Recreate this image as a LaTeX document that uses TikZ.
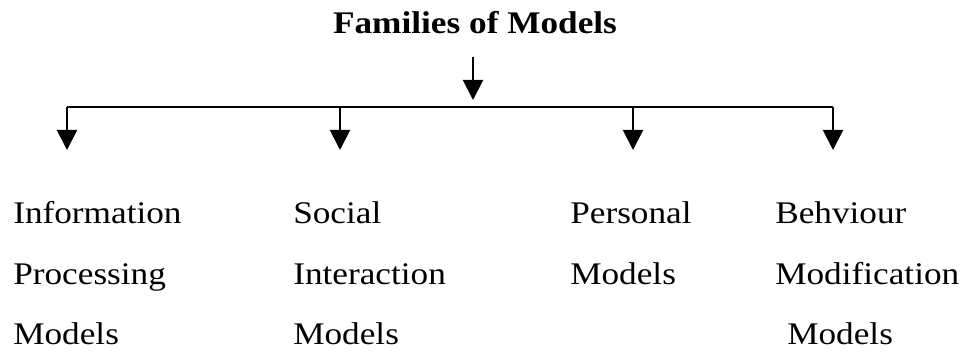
\documentclass[tikz,border=0pt]{standalone}
\usepackage{fontspec}
\setmainfont{Liberation Serif}[FakeStretch=1.12]
\usetikzlibrary{arrows.meta}
\begin{document}
\begin{tikzpicture}[x=0.75pt,y=-0.75pt,
  label/.style={anchor=base west,inner sep=0pt,font=\fontsize{23.6pt}{28pt}\selectfont},
  title/.style={anchor=base,inner sep=0pt,font=\fontsize{23.6pt}{28pt}\selectfont\bfseries},
  link/.style={line width=1.5pt},
  arrowlink/.style={line width=1.5pt,-{Triangle[length=15pt,width=15pt]}}]
\useasboundingbox (0,0) rectangle (964,352);

% heading
\node[title] (fam) at (475,34) {Families of Models};

% branching points
\coordinate (top) at (473,57);
\coordinate (hub) at (473,100);
\coordinate (b1) at (67,107);
\coordinate (b2) at (340,107);
\coordinate (b3) at (633,107);
\coordinate (b4) at (833,107);
\coordinate (t1) at (67,150);
\coordinate (t2) at (340,150);
\coordinate (t3) at (633,150);
\coordinate (t4) at (833,150);

\draw[arrowlink] (top) -- (hub);
\draw[link] (b1) -- (b4);
\foreach \i in {1,...,4} \draw[arrowlink] (b\i) -- (t\i);

% the four families
\node[label] (ip1) at (13,224) {Information};
\node[label] (ip2) at (13,285) {Processing};
\node[label] (ip3) at (13,345) {Models};

\node[label] (si1) at (293,224) {Social};
\node[label] (si2) at (293,285) {Interaction};
\node[label] (si3) at (293,345) {Models};

\node[label] (pm1) at (570,224) {Personal};
\node[label] (pm2) at (570,285) {Models};

\node[label] (bm1) at (775,224) {Behviour};
\node[label] (bm2) at (775,285) {Modification};
\node[label] (bm3) at (787,345) {Models};
\end{tikzpicture}
\end{document}
